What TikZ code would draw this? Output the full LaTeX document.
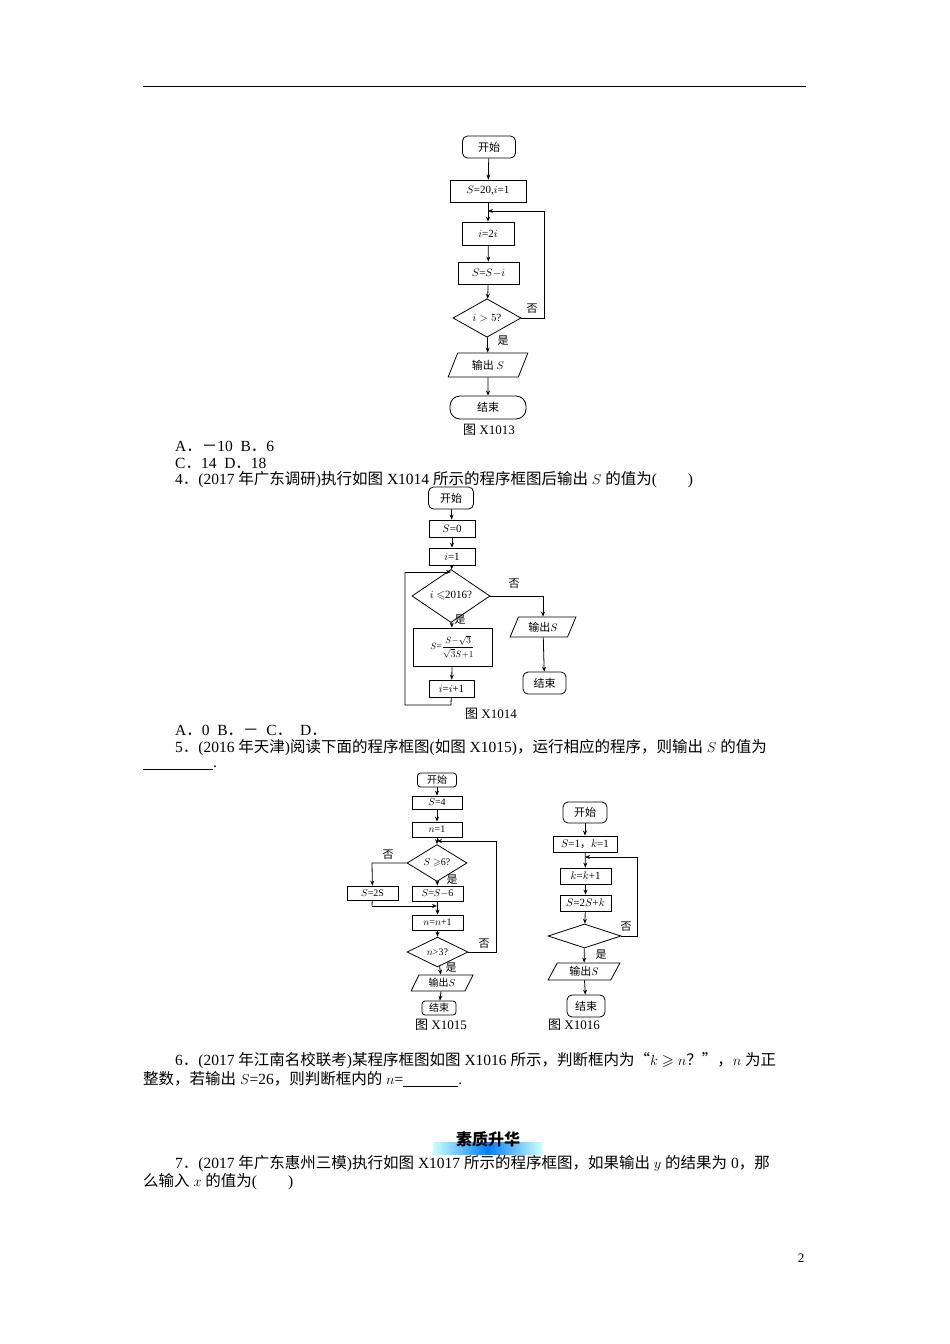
\documentclass[tikz,border=0pt]{standalone}
\usepackage{amsmath,amssymb}
\usepackage{fontspec}
\setmainfont{Liberation Serif}
\newfontfamily\cjk{Noto Sans CJK SC}
\usetikzlibrary{shapes.geometric,arrows.meta}
\XeTeXinterchartokenstate=1
\newXeTeXintercharclass\CJKc
\count255="3000
\loop \XeTeXcharclass\count255=\CJKc \ifnum\count255<"9FFF \advance\count255 by 1 \repeat
\count255="FF00
\loop \XeTeXcharclass\count255=\CJKc \ifnum\count255<"FFEF \advance\count255 by 1 \repeat
\XeTeXcharclass"201C=\CJKc \XeTeXcharclass"201D=\CJKc
\XeTeXinterchartoks 0 \CJKc = {\begingroup\cjk}
\XeTeXinterchartoks 4095 \CJKc = {\begingroup\cjk}
\XeTeXinterchartoks \CJKc 0 = {\endgroup}
\XeTeXinterchartoks \CJKc 4095 = {\endgroup}
\begin{document}
\begin{tikzpicture}[x=1pt,y=-1pt,
  box/.style={draw,line width=0.8pt,inner sep=0.5pt,font=\fontsize{11}{12}\selectfont},
  term/.style={box,rounded corners=5pt},
  proc/.style={box},
  dec/.style={box,diamond},
  io/.style={box,trapezium,trapezium left angle=65,trapezium right angle=115,trapezium stretches=true},
  sm/.style={font=\fontsize{10}{11}\selectfont},
  lab/.style={inner sep=0pt,font=\fontsize{11}{12}\selectfont},
  txt/.style={anchor=west,inner sep=0pt,font=\fontsize{15.5}{17}\selectfont},
  arr/.style={line width=0.8pt,-{Stealth[length=5pt,width=4pt]}},
  ln/.style={line width=0.8pt}]
\useasboundingbox (0,0) rectangle (950,1344);
\fill[white] (0,0) rectangle (950,1344);
\coordinate (t1) at (143,86); \coordinate (t2) at (806,86);
\draw[line width=1pt] (t1) -- (t2);
% Chart X1013
\node[term,minimum width=53,minimum height=22] (a1) at (489,147) {开始};
\node[proc,minimum width=76,minimum height=22] (b1) at (488,191) {$S$=20,$i$=1};
\node[proc,minimum width=52,minimum height=23] (c1) at (488,233.5) {$i$=2$i$};
\node[proc,minimum width=61,minimum height=22] (d1) at (488.5,273) {$S$=$S$$-$$i$};
\node[dec,minimum width=68,minimum height=34] (e1) at (487,318) {$i>5$?};
\node[io,minimum width=80,minimum height=24] (f1) at (488,365) {输出 $S$};
\node[term,minimum width=76,minimum height=23,rounded corners=10pt] (g1) at (488,407.5) {结束};
\node[lab] (n1) at (532,309) {否};
\node[lab] (y1) at (503,341) {是};
\node[lab,font=\fontsize{13}{14}\selectfont] (cap1) at (489,430) {图 X1013};
\coordinate (lp1) at (544,211); \coordinate (lq1) at (488,211);
\draw[arr] (a1) -- (b1); \draw[arr] (b1) -- (c1); \draw[arr] (c1) -- (d1);
\draw[arr] (d1) -- (e1); \draw[arr] (e1) -- (f1); \draw[arr] (f1) -- (g1);
\draw[arr] (e1.east) -| (lp1) -- (lq1);
\node[txt] (ta) at (175,446) {A．－10\enspace B．6};
\node[txt] (tc) at (175,463) {C．14\enspace D．18};
\node[txt] (t4) at (175,480) {4．(2017 年广东调研)执行如图 X1014 所示的程序框图后输出 $S$ 的值为(\hspace{2em})};
% Chart X1014
\node[term,minimum width=45,minimum height=22] (a2) at (451,498) {开始};
\node[proc,minimum width=46,minimum height=17] (b2) at (452,528.5) {$S$=0};
\node[proc,minimum width=46,minimum height=17] (c2) at (452,556.5) {$i$=1};
\node[dec,minimum width=78,minimum height=29] (d2) at (451,596) {$i\leqslant$2016?};
\node[proc,minimum width=79,minimum height=38,font=\fontsize{9.5}{10}\selectfont] (e2) at (452.5,647) {$S$=$\dfrac{S{-}\sqrt{3}}{\sqrt{3}S{+}1}$};
\node[proc,minimum width=45,minimum height=17] (f2) at (451.5,688.5) {$i$=$i$+1};
\node[io,minimum width=66,minimum height=20] (g2) at (543,627) {输出$S$};
\node[term,minimum width=43,minimum height=22] (h2) at (544.5,683) {结束};
\node[lab] (n2) at (514,584) {否};
\node[lab] (y2) at (460,620) {是};
\node[lab,font=\fontsize{13}{14}\selectfont] (cap2) at (491,714) {图 X1014};
\coordinate (lp2a) at (451,705); \coordinate (lp2b) at (405,705);
\coordinate (lp2c) at (405,572); \coordinate (lp2d) at (451,572);
\coordinate (r2) at (543,596);
\draw[arr] (a2) -- (b2); \draw[arr] (b2) -- (c2); \draw[arr] (c2) -- (d2);
\draw[arr] (d2) -- (e2); \draw[arr] (e2) -- (f2);
\draw[ln] (f2) -- (lp2a) -- (lp2b) -- (lp2c); \draw[arr] (lp2c) -- (lp2d);
\draw[arr] (d2.east) -- (r2) -- (g2); \draw[arr] (g2) -- (h2);
\node[txt] (ta2) at (175,730) {A．0\enspace B．－\enspace C．\enspace D．};
\node[txt] (t5) at (175,748) {5．(2016 年天津)阅读下面的程序框图(如图 X1015)，运行相应的程序，则输出 $S$ 的值为};
\node[txt] (t5b) at (143,768) {\rule[-2pt]{70pt}{0.5pt}.};
% Chart X1015
\node[term,sm,minimum width=39,minimum height=14,rounded corners=3pt] (a3) at (437,780) {开始};
\node[proc,sm,minimum width=50,minimum height=13] (b3) at (437,802.5) {$S$=4};
\node[proc,sm,minimum width=50,minimum height=15] (c3) at (437,829.5) {$n$=1};
\node[dec,sm,minimum width=60,minimum height=26] (d3) at (437,863) {$S\geqslant$6?};
\node[proc,sm,minimum width=51,minimum height=14] (e3) at (372.5,893) {$S$=2S};
\node[proc,sm,minimum width=51,minimum height=15] (f3) at (437.5,893.5) {$S$=$S$$-$6};
\node[proc,sm,minimum width=51,minimum height=15] (g3) at (437.5,922.5) {$n$=$n$+1};
\node[dec,sm,minimum width=61,minimum height=24] (h3) at (437.5,952) {$n$>3?};
\node[io,sm,minimum width=62,minimum height=16] (i3) at (442,983) {输出$S$};
\node[term,sm,minimum width=34,minimum height=14,rounded corners=3pt] (j3) at (439,1008) {结束};
\node[lab] (n3a) at (388,855) {否};
\node[lab] (y3a) at (452,880) {是};
\node[lab] (n3b) at (484,944) {否};
\node[lab] (y3b) at (451,968) {是};
\node[lab,font=\fontsize{13}{14}\selectfont] (cap3) at (441,1025) {图 X1015};
\coordinate (l3a) at (372,863); \coordinate (m3a) at (372,906); \coordinate (m3b) at (437,906);
\coordinate (r3a) at (496,952); \coordinate (r3b) at (496,841); \coordinate (r3c) at (437,841);
\draw[arr] (a3) -- (b3); \draw[arr] (b3) -- (c3); \draw[arr] (c3) -- (d3);
\draw[arr] (d3) -- (f3); \draw[arr] (f3) -- (g3); \draw[arr] (g3) -- (h3);
\draw[arr] (h3) -- (i3); \draw[arr] (i3) -- (j3);
\draw[arr] (d3.west) -- (l3a) -- (e3);
\draw[ln] (e3) -- (m3a); \draw[arr] (m3a) -- (m3b);
\draw[arr] (h3.east) -- (r3a) -- (r3b) -- (r3c);
% Chart X1016
\node[term,minimum width=44,minimum height=21] (a4) at (585,812.5) {开始};
\node[proc,minimum width=64,minimum height=16] (b4) at (585,844) {$S$=1，$k$=1};
\node[proc,minimum width=51,minimum height=16] (c4) at (585.5,876) {$k$=$k$+1};
\node[proc,minimum width=51,minimum height=16] (d4) at (585.5,903) {$S$=2$S$+$k$};
\node[dec,minimum width=73,minimum height=24] (e4) at (584.5,936) {};
\node[io,minimum width=72,minimum height=17] (f4) at (584,971.5) {输出$S$};
\node[term,minimum width=38,minimum height=22] (g4) at (586,1006) {结束};
\node[lab] (n4) at (626,927) {否};
\node[lab] (y4) at (601,955) {是};
\node[lab,font=\fontsize{13}{14}\selectfont] (cap4) at (574,1025) {图 X1016};
\coordinate (r4a) at (637,936); \coordinate (r4b) at (637,857); \coordinate (r4c) at (585,857);
\draw[arr] (a4) -- (b4); \draw[arr] (b4) -- (c4); \draw[arr] (c4) -- (d4);
\draw[arr] (d4) -- (e4); \draw[arr] (e4) -- (f4); \draw[arr] (f4) -- (g4);
\draw[arr] (e4.east) -- (r4a) -- (r4b) -- (r4c);
% Text
\node[txt] (t6) at (175,1061) {6．(2017 年江南名校联考)某程序框图如图 X1016 所示，判断框内为“$k\geqslant n$？”，$n$ 为正};
\node[txt] (t6b) at (143,1079) {整数，若输出 $S$=26，则判断框内的 $n$=\rule[-2pt]{55pt}{0.5pt}.};
\shade[left color=cyan!20,right color=cyan!20,middle color=blue!50!cyan] (433,1142) rectangle (542,1154);
\node[inner sep=0pt,font=\fontsize{16}{17}\selectfont\bfseries] (ban) at (488,1139) {素质升华};
\node[txt] (t7) at (175,1164) {7．(2017 年广东惠州三模)执行如图 X1017 所示的程序框图，如果输出 $y$ 的结果为 0，那};
\node[txt] (t7b) at (143,1182) {么输入 $x$ 的值为(\hspace{2em})};
\node[txt,anchor=center,font=\fontsize{13}{14}\selectfont] (pg) at (801,1258) {2};
\end{tikzpicture}
\end{document}
